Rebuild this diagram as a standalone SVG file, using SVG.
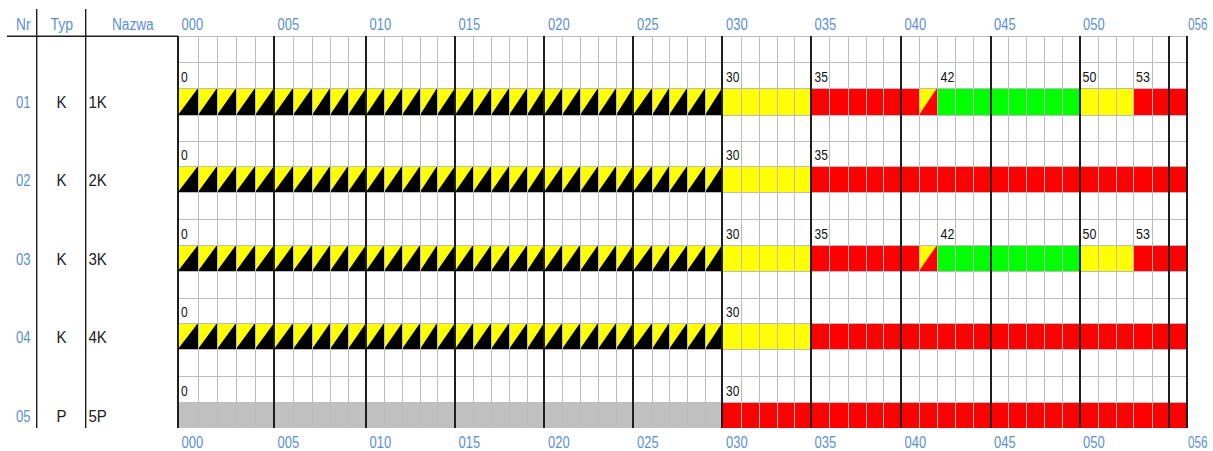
<svg xmlns="http://www.w3.org/2000/svg" xmlns:xlink="http://www.w3.org/1999/xlink" width="1213" height="451" viewBox="0 0 1213 451">
<style>
text{font-family:"Liberation Sans",Arial,sans-serif}
.ax{font-size:16px;fill:#5b8fd5}
.rn{font-size:16px;fill:#5b8fd5}
.lb{font-size:16px;fill:#222}
.nm{font-size:15px;fill:#111}
.thin{stroke:#bcbcbc;stroke-width:1;fill:none}
.thick{stroke:#1e1e1e;stroke-width:2;fill:none}
.frame{stroke:#1e1e1e;stroke-width:1.4;fill:none}
.y{fill:#ffff00}.r{fill:#ff0000}.g{fill:#00ff00}.k{fill:#000}.gr{fill:#c0c0c0}
</style>
<defs>
<path id="hatch" d="M178 1L198 0V1ZM198 1L217 0V1ZM217 1L236 0V1ZM236 1L255 0V1ZM255 1L274 0V1ZM274 1L293 0V1ZM293 1L312 0V1ZM312 1L330 0V1ZM330 1L348 0V1ZM348 1L366 0V1ZM366 1L384 0V1ZM384 1L402 0V1ZM402 1L420 0V1ZM420 1L437 0V1ZM437 1L455 0V1ZM455 1L473 0V1ZM473 1L491 0V1ZM491 1L509 0V1ZM509 1L527 0V1ZM527 1L544 0V1ZM544 1L562 0V1ZM562 1L580 0V1ZM580 1L598 0V1ZM598 1L616 0V1ZM616 1L633 0V1ZM633 1L652 0V1ZM652 1L669 0V1ZM669 1L687 0V1ZM687 1L705 0V1ZM705 1L722 0V1Z"/>
<path id="split" d="M919 1L937 0V1Z"/>
</defs>
<rect x="0" y="0" width="1213" height="451" fill="#fff"/>

<g id="header">
<text class="ax" x="16" y="30" textLength="14.5" lengthAdjust="spacingAndGlyphs">Nr</text>
<text class="ax" x="50.5" y="30" textLength="22.6" lengthAdjust="spacingAndGlyphs">Typ</text>
<text class="ax" x="112" y="30" textLength="41.7" lengthAdjust="spacingAndGlyphs">Nazwa</text>
</g>

<g id="row-01">
<rect class="y" x="178" y="88" width="544" height="27"/>
<use xlink:href="#hatch" href="#hatch" class="k" transform="translate(0,88) scale(1,27)"/>
<rect class="y" x="722" y="88" width="89" height="27"/>
<rect class="r" x="811" y="88" width="108" height="27"/>
<rect class="y" x="919" y="88" width="18" height="27"/>
<use xlink:href="#split" href="#split" class="r" transform="translate(0,88) scale(1,27)"/>
<rect class="g" x="937" y="88" width="143" height="27"/>
<rect class="y" x="1080" y="88" width="53" height="27"/>
<rect class="r" x="1133" y="88" width="54" height="27"/>
<text class="rn" x="16" y="108.3" textLength="14.6" lengthAdjust="spacingAndGlyphs">01</text>
<text class="lb" x="56.5" y="108.3" textLength="10" lengthAdjust="spacingAndGlyphs">K</text>
<text class="lb" x="88.5" y="108.3" textLength="18.4" lengthAdjust="spacingAndGlyphs">1K</text>
<text class="nm" x="181" y="82" textLength="6.7" lengthAdjust="spacingAndGlyphs">0</text>
<text class="nm" x="726" y="82" textLength="13.3" lengthAdjust="spacingAndGlyphs">30</text>
<text class="nm" x="814.5" y="82" textLength="13.3" lengthAdjust="spacingAndGlyphs">35</text>
<text class="nm" x="940.5" y="82" textLength="13.8" lengthAdjust="spacingAndGlyphs">42</text>
<text class="nm" x="1082.5" y="82" textLength="13.8" lengthAdjust="spacingAndGlyphs">50</text>
<text class="nm" x="1136" y="82" textLength="13.8" lengthAdjust="spacingAndGlyphs">53</text>
</g>

<g id="row-02">
<rect class="y" x="178" y="166" width="544" height="26"/>
<use xlink:href="#hatch" href="#hatch" class="k" transform="translate(0,166) scale(1,26)"/>
<rect class="y" x="722" y="166" width="89" height="26"/>
<rect class="r" x="811" y="166" width="376" height="26"/>
<text class="rn" x="16" y="185.5" textLength="14.6" lengthAdjust="spacingAndGlyphs">02</text>
<text class="lb" x="56.5" y="185.5" textLength="10" lengthAdjust="spacingAndGlyphs">K</text>
<text class="lb" x="88.5" y="185.5" textLength="18.4" lengthAdjust="spacingAndGlyphs">2K</text>
<text class="nm" x="181" y="160" textLength="6.7" lengthAdjust="spacingAndGlyphs">0</text>
<text class="nm" x="726" y="160" textLength="13.3" lengthAdjust="spacingAndGlyphs">30</text>
<text class="nm" x="814.5" y="160" textLength="13.3" lengthAdjust="spacingAndGlyphs">35</text>
</g>

<g id="row-03">
<rect class="y" x="178" y="245" width="544" height="26"/>
<use xlink:href="#hatch" href="#hatch" class="k" transform="translate(0,245) scale(1,26)"/>
<rect class="y" x="722" y="245" width="89" height="26"/>
<rect class="r" x="811" y="245" width="108" height="26"/>
<rect class="y" x="919" y="245" width="18" height="26"/>
<use xlink:href="#split" href="#split" class="r" transform="translate(0,245) scale(1,26)"/>
<rect class="g" x="937" y="245" width="143" height="26"/>
<rect class="y" x="1080" y="245" width="53" height="26"/>
<rect class="r" x="1133" y="245" width="54" height="26"/>
<text class="rn" x="16" y="264.5" textLength="14.6" lengthAdjust="spacingAndGlyphs">03</text>
<text class="lb" x="56.5" y="264.5" textLength="10" lengthAdjust="spacingAndGlyphs">K</text>
<text class="lb" x="88.5" y="264.5" textLength="18.4" lengthAdjust="spacingAndGlyphs">3K</text>
<text class="nm" x="181" y="239" textLength="6.7" lengthAdjust="spacingAndGlyphs">0</text>
<text class="nm" x="726" y="239" textLength="13.3" lengthAdjust="spacingAndGlyphs">30</text>
<text class="nm" x="814.5" y="239" textLength="13.3" lengthAdjust="spacingAndGlyphs">35</text>
<text class="nm" x="940.5" y="239" textLength="13.8" lengthAdjust="spacingAndGlyphs">42</text>
<text class="nm" x="1082.5" y="239" textLength="13.8" lengthAdjust="spacingAndGlyphs">50</text>
<text class="nm" x="1136" y="239" textLength="13.8" lengthAdjust="spacingAndGlyphs">53</text>
</g>

<g id="row-04">
<rect class="y" x="178" y="323" width="544" height="26"/>
<use xlink:href="#hatch" href="#hatch" class="k" transform="translate(0,323) scale(1,26)"/>
<rect class="y" x="722" y="323" width="89" height="26"/>
<rect class="r" x="811" y="323" width="376" height="26"/>
<text class="rn" x="16" y="342.5" textLength="14.6" lengthAdjust="spacingAndGlyphs">04</text>
<text class="lb" x="56.5" y="342.5" textLength="10" lengthAdjust="spacingAndGlyphs">K</text>
<text class="lb" x="88.5" y="342.5" textLength="18.4" lengthAdjust="spacingAndGlyphs">4K</text>
<text class="nm" x="181" y="317" textLength="6.7" lengthAdjust="spacingAndGlyphs">0</text>
<text class="nm" x="726" y="317" textLength="13.3" lengthAdjust="spacingAndGlyphs">30</text>
</g>

<g id="row-05">
<rect class="gr" x="178" y="402" width="544" height="26"/>
<rect class="r" x="722" y="402" width="465" height="26"/>
<text class="rn" x="16" y="421.5" textLength="14.6" lengthAdjust="spacingAndGlyphs">05</text>
<text class="lb" x="56.5" y="421.5" textLength="10" lengthAdjust="spacingAndGlyphs">P</text>
<text class="lb" x="88.5" y="421.5" textLength="18.4" lengthAdjust="spacingAndGlyphs">5P</text>
<text class="nm" x="181" y="395.5" textLength="6.7" lengthAdjust="spacingAndGlyphs">0</text>
<text class="nm" x="726" y="395.5" textLength="13.3" lengthAdjust="spacingAndGlyphs">30</text>
</g>

<g id="grid">
<path class="thin" d="M198.5 36V428M217.5 36V428M236.5 36V428M255.5 36V428M293.5 36V428M312.5 36V428M330.5 36V428M348.5 36V428M384.5 36V428M402.5 36V428M420.5 36V428M437.5 36V428M473.5 36V428M491.5 36V428M509.5 36V428M527.5 36V428M562.5 36V428M580.5 36V428M598.5 36V428M616.5 36V428M652.5 36V428M669.5 36V428M687.5 36V428M705.5 36V428M741.5 36V428M759.5 36V428M777.5 36V428M794.5 36V428M829.5 36V428M848.5 36V428M866.5 36V428M883.5 36V428M919.5 36V428M937.5 36V428M955.5 36V428M973.5 36V428M1008.5 36V428M1026.5 36V428M1044.5 36V428M1062.5 36V428M1098.5 36V428M1116.5 36V428M1133.5 36V428M1152.5 36V428"/>
<path class="thin" d="M178 36.5H1187M178 62.5H1187M178 88.5H1187M178 115.5H1187M178 141.5H1187M178 166.5H1187M178 192.5H1187M178 219.5H1187M178 245.5H1187M178 271.5H1187M178 298.5H1187M178 323.5H1187M178 349.5H1187M178 376.5H1187M178 402.5H1187"/>
<path class="thick" d="M178 36V428M274 36V428M366 36V428M455 36V428M544 36V428M633 36V428M722 36V428M811 36V428M901 36V428M991 36V428M1080 36V428M1169 36V428M1187 36V428"/>
<path class="frame" d="M36.7 9V428M85.7 9V428M7 36.3H178"/>
</g>

<g id="axis-top">
<text class="ax" x="181.5" y="30" textLength="21.6" lengthAdjust="spacingAndGlyphs">000</text>
<text class="ax" x="277.5" y="30" textLength="21.6" lengthAdjust="spacingAndGlyphs">005</text>
<text class="ax" x="369.5" y="30" textLength="21.6" lengthAdjust="spacingAndGlyphs">010</text>
<text class="ax" x="458.5" y="30" textLength="21.6" lengthAdjust="spacingAndGlyphs">015</text>
<text class="ax" x="548" y="30" textLength="21.6" lengthAdjust="spacingAndGlyphs">020</text>
<text class="ax" x="637" y="30" textLength="21.6" lengthAdjust="spacingAndGlyphs">025</text>
<text class="ax" x="726" y="30" textLength="21.6" lengthAdjust="spacingAndGlyphs">030</text>
<text class="ax" x="814.5" y="30" textLength="21.6" lengthAdjust="spacingAndGlyphs">035</text>
<text class="ax" x="904.5" y="30" textLength="21.6" lengthAdjust="spacingAndGlyphs">040</text>
<text class="ax" x="994" y="30" textLength="21.6" lengthAdjust="spacingAndGlyphs">045</text>
<text class="ax" x="1083" y="30" textLength="21.6" lengthAdjust="spacingAndGlyphs">050</text>
<text class="ax" x="1188" y="30" textLength="19.5" lengthAdjust="spacingAndGlyphs">056</text>
</g>
<g id="axis-bottom">
<text class="ax" x="181.5" y="447.5" textLength="21.6" lengthAdjust="spacingAndGlyphs">000</text>
<text class="ax" x="277.5" y="447.5" textLength="21.6" lengthAdjust="spacingAndGlyphs">005</text>
<text class="ax" x="369.5" y="447.5" textLength="21.6" lengthAdjust="spacingAndGlyphs">010</text>
<text class="ax" x="458.5" y="447.5" textLength="21.6" lengthAdjust="spacingAndGlyphs">015</text>
<text class="ax" x="548" y="447.5" textLength="21.6" lengthAdjust="spacingAndGlyphs">020</text>
<text class="ax" x="637" y="447.5" textLength="21.6" lengthAdjust="spacingAndGlyphs">025</text>
<text class="ax" x="726" y="447.5" textLength="21.6" lengthAdjust="spacingAndGlyphs">030</text>
<text class="ax" x="814.5" y="447.5" textLength="21.6" lengthAdjust="spacingAndGlyphs">035</text>
<text class="ax" x="904.5" y="447.5" textLength="21.6" lengthAdjust="spacingAndGlyphs">040</text>
<text class="ax" x="994" y="447.5" textLength="21.6" lengthAdjust="spacingAndGlyphs">045</text>
<text class="ax" x="1083" y="447.5" textLength="21.6" lengthAdjust="spacingAndGlyphs">050</text>
<text class="ax" x="1188" y="447.5" textLength="19.5" lengthAdjust="spacingAndGlyphs">056</text>
</g>
</svg>
